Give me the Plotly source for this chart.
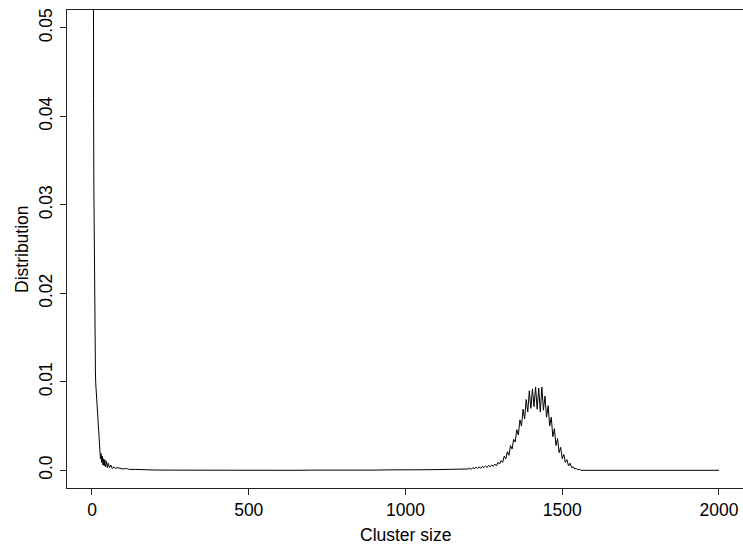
import plotly.graph_objects as go

# Cluster sizes (x) and distribution values (y)
head_sizes = [1, 2, 3, 4, 5, 6, 7, 8, 9, 10, 11, 12, 13, 14, 15, 16, 17, 18, 19, 20,
              21, 22, 23, 24, 25, 27, 29, 31, 33, 35, 37, 39, 41, 43, 46, 49, 52, 56,
              60, 65, 70, 75, 80, 90, 100, 110, 120, 140, 160, 180, 200, 250, 300]
head_dist = [0.35, 0.17, 0.09, 0.058, 0.042, 0.032, 0.025, 0.020, 0.016, 0.013, 0.011,
             0.0098, 0.0092, 0.0085, 0.0078, 0.0074, 0.0066, 0.0058, 0.0050, 0.0044,
             0.0038, 0.0033, 0.0028, 0.0025, 0.0022, 0.0013, 0.0019, 0.0009, 0.0016,
             0.0006, 0.0013, 0.0005, 0.0012, 0.0004, 0.0010, 0.0003, 0.0008, 0.0003,
             0.0006, 0.0002, 0.0004, 0.0002, 0.0003, 0.0002, 0.00015, 0.0002, 0.0001,
             0.0001, 0.00005, 0.00008, 0.00003, 0.00002, 0.00001]

mid_sizes = [350, 400, 450, 500, 550, 600, 650, 700, 750, 800, 850, 900, 950, 1000,
             1050, 1100, 1150]
mid_dist = [0.0, 0.00003, 0.0, 0.0, 0.00002, 0.0, 0.0, 0.00002, 0.0, 0.0, 0.00003,
            0.00002, 0.00005, 0.00003, 0.00006, 0.00008, 0.00010]

bump_sizes = [1200, 1205, 1210, 1215, 1220, 1225, 1230, 1235, 1240, 1245, 1250, 1255,
              1260, 1265, 1270, 1275, 1280, 1285, 1290, 1295, 1300, 1305, 1310, 1315,
              1320, 1325, 1330, 1335, 1340, 1345, 1350, 1355, 1360, 1365, 1370, 1375,
              1380, 1385, 1390, 1395, 1400, 1405, 1410, 1415, 1420, 1425, 1430, 1435,
              1440, 1445, 1450, 1455, 1460, 1465, 1470, 1475, 1480, 1485, 1490, 1495,
              1500, 1505, 1510, 1515, 1520, 1525, 1530, 1535, 1540, 1545, 1550, 1555,
              1560, 2000]
bump_dist = [0.00015, 0.00025, 0.0001, 0.0003, 0.00018, 0.00035, 0.0002, 0.0004,
             0.00022, 0.00045, 0.0003, 0.0005, 0.00032, 0.00055, 0.0004, 0.0006,
             0.00045, 0.0007, 0.0005, 0.0009, 0.0007, 0.0011, 0.0009, 0.0016, 0.0013,
             0.0021, 0.0017, 0.0028, 0.0024, 0.0035, 0.0032, 0.0046, 0.0040, 0.0057,
             0.0050, 0.0069, 0.0058, 0.0080, 0.0066, 0.0090, 0.0070, 0.0092, 0.0072,
             0.0094, 0.0069, 0.0093, 0.0066, 0.0094, 0.0068, 0.0084, 0.0060, 0.0073,
             0.0050, 0.0060, 0.0038, 0.0047, 0.0028, 0.0036, 0.0020, 0.0026, 0.0013,
             0.0018, 0.0009, 0.0012, 0.0005, 0.0008, 0.0003, 0.0004, 0.00015, 0.0002,
             0.00005, 0.0001, 0.0, 0.0]

x_ticks = [0, 500, 1000, 1500, 2000]
x_tick_labels = ["0", "500", "1000", "1500", "2000"]
y_ticks = [0.0, 0.01, 0.02, 0.03, 0.04, 0.05]
y_tick_labels = ["0.0", "0.01", "0.02", "0.03", "0.04", "0.05"]
x_title = "Cluster size"
y_title = "Distribution"

sizes = head_sizes + mid_sizes + bump_sizes
dist = head_dist + mid_dist + bump_dist

FONT = "Liberation Sans, Arial, Helvetica, sans-serif"

fig = go.Figure()
fig.add_trace(go.Scatter(x=sizes, y=dist, mode="lines",
                         line=dict(color="black", width=1), showlegend=False))

fig.update_layout(
    width=743, height=546,
    margin=dict(l=67, r=0, t=10, b=58, autoexpand=False),
    paper_bgcolor="white", plot_bgcolor="white",
    font=dict(family=FONT, size=17.5, color="black"),
)
fig.update_xaxes(
    range=[-79.7, 2076.6], tickvals=x_ticks, ticktext=x_tick_labels,
    showgrid=False, zeroline=False, showline=True, linecolor="#222", linewidth=1,
    mirror=True, ticks="outside", ticklen=6, tickcolor="#222",
    ticklabelstandoff=0, automargin=False,
)
fig.update_yaxes(
    range=[-0.0020, 0.05203], tickvals=y_ticks, ticktext=y_tick_labels,
    showgrid=False, zeroline=False, showline=True, linecolor="#222", linewidth=1,
    mirror=False, ticks="outside", ticklen=6, tickcolor="#222", tickangle=-90,
    ticklabelstandoff=1, automargin=False,
)
fig.add_annotation(text=x_title, xref="paper", yref="paper", x=0.5, y=-0.0983,
                   xanchor="center", yanchor="middle", showarrow=False,
                   font=dict(size=17.5))
fig.add_annotation(text=y_title, xref="paper", yref="paper", x=-0.0666, y=0.5,
                   xanchor="center", yanchor="middle", textangle=-90,
                   showarrow=False, font=dict(size=17.5))

fig.write_html("out.html", config={"displayModeBar": False},
               post_script="document.body.style.margin='0';"
                           "document.body.style.overflow='hidden';")
